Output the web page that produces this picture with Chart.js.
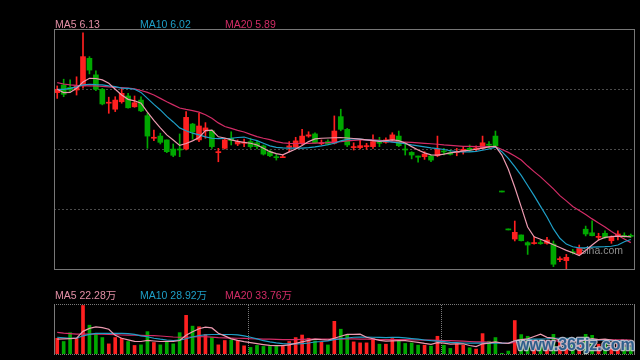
<!DOCTYPE html>
<html>
<head>
<meta charset="utf-8">
<script src="https://cdn.jsdelivr.net/npm/chart.js@4.4.1/dist/chart.umd.min.js"></script>
<style>
  html, body { margin: 0; padding: 0; background: #000; }
  #wrap { position: relative; width: 640px; height: 360px; background: #000; overflow: hidden; }
  canvas { position: absolute; left: 0; }
  #priceChart { top: 0; }
  #volChart { top: 280px; }
  .lbl { position: absolute; font: 10.5px/12px "Liberation Sans", Arial, "Noto Sans CJK SC", sans-serif; white-space: nowrap; }
</style>
</head>
<body>
<div id="wrap">
  <canvas id="priceChart" width="640" height="280" style="width:640px;height:280px"></canvas>
  <canvas id="volChart" width="640" height="80" style="width:640px;height:80px"></canvas>
  <div class="lbl" style="left:55px;top:18px;color:#e38fa6">MA5 6.13</div>
  <div class="lbl" style="left:140px;top:18px;color:#1e9fc7">MA10 6.02</div>
  <div class="lbl" style="left:225px;top:18px;color:#d22c66">MA20 5.89</div>
  <div class="lbl" style="left:55px;top:289px;color:#e38fa6">MA5 22.28万</div>
  <div class="lbl" style="left:140px;top:289px;color:#1e9fc7">MA10 28.92万</div>
  <div class="lbl" style="left:225px;top:289px;color:#d22c66">MA20 33.76万</div>
</div>
<script>
// daily candles, oldest first
const open = [12.14,12.46,12.36,12.25,12.42,13.57,12.88,12.28,11.70,11.45,
  11.76,12.00,11.55,11.83,11.18,10.24,10.33,10.17,9.79,9.78,
  9.79,10.83,10.17,10.54,10.55,9.64,9.82,10.24,10.00,10.03,
  10.10,10.05,9.92,9.68,9.47,9.43,9.86,9.86,10.03,10.33,
  10.42,10.01,10.10,10.03,11.14,10.61,9.85,9.85,9.89,9.89,
  10.07,10.07,10.17,10.33,9.79,9.65,9.50,9.47,9.50,9.51,
  9.71,9.64,9.64,9.68,9.82,9.77,9.82,9.99,10.33,8.00,
  6.42,6.04,6.21,5.89,5.85,5.88,5.86,5.83,5.18,5.14,
  5.51,5.42,6.45,6.30,6.11,6.28,5.97,6.14,6.18,6.18];
const high = [12.42,12.70,12.67,12.80,14.63,13.64,13.05,12.32,11.95,11.97,
  12.32,12.11,12.00,11.97,11.28,10.58,10.45,10.17,10.00,10.42,
  11.35,10.86,11.28,10.89,10.58,9.82,10.24,10.51,10.17,10.20,
  10.24,10.13,9.96,9.75,9.57,9.54,10.10,10.28,10.61,10.51,
  10.47,10.17,10.17,11.17,11.45,10.65,10.05,10.17,10.03,10.38,
  10.28,10.26,10.47,10.54,10.03,9.68,9.50,9.68,9.54,10.33,
  9.82,9.75,9.82,9.89,9.96,9.92,10.33,10.10,10.54,8.00,
  6.42,6.79,6.21,5.93,6.14,6.00,6.11,5.96,5.30,5.40,
  5.61,5.79,6.58,6.80,6.28,6.38,6.17,6.38,6.30,6.25];
const low = [11.90,11.97,12.18,12.04,12.33,12.92,12.22,11.63,11.28,11.35,
  11.70,11.49,11.53,11.35,9.82,10.14,10.00,9.64,9.47,9.47,
  9.75,10.20,10.10,10.24,9.82,9.26,9.79,9.96,9.93,9.89,
  9.82,9.79,9.54,9.47,9.33,9.43,9.68,9.82,9.96,10.28,
  10.03,9.96,9.96,10.00,10.55,9.89,9.75,9.79,9.78,9.82,
  9.89,10.03,10.14,9.89,9.54,9.38,9.24,9.36,9.26,9.47,
  9.54,9.54,9.51,9.58,9.68,9.71,9.79,9.82,9.89,8.00,
  6.42,5.96,5.96,5.40,5.83,5.82,5.83,4.89,5.10,4.78,
  5.42,5.38,6.17,6.17,6.00,6.07,5.86,6.00,6.11,6.11];
const close = [12.28,12.07,12.25,12.42,13.64,13.08,12.28,11.67,11.74,11.83,
  12.11,11.51,11.72,11.38,10.33,10.28,10.07,9.68,9.53,9.75,
  11.11,10.50,10.75,10.67,9.89,9.68,10.17,10.14,10.10,10.07,
  9.89,9.89,9.58,9.51,9.43,9.47,9.92,10.13,10.33,10.38,
  10.05,10.05,9.99,10.54,10.61,9.96,9.89,9.93,9.93,10.10,
  10.03,10.17,10.38,9.93,9.75,9.54,9.45,9.58,9.33,9.79,
  9.67,9.57,9.68,9.78,9.75,9.83,10.05,9.95,9.92,8.00,
  6.42,6.32,5.97,5.79,5.88,5.85,6.00,4.99,5.22,5.28,
  5.47,5.65,6.25,6.18,6.14,6.10,6.11,6.25,6.15,6.15];

// moving averages as drawn
const ma5 = [12.28,12.14,12.15,12.32,12.58,12.74,12.73,12.67,12.53,12.28,
  12.04,11.86,11.80,11.70,11.33,10.98,10.67,10.38,10.17,9.94,
  10.02,10.13,10.27,10.56,10.58,10.30,10.25,10.17,10.11,10.07,
  10.03,9.96,9.82,9.68,9.60,9.55,9.67,9.79,9.94,10.10,
  10.21,10.24,10.25,10.26,10.27,10.25,10.23,10.20,10.17,10.14,
  10.11,10.14,10.17,10.14,10.04,9.89,9.75,9.63,9.55,9.54,
  9.58,9.63,9.67,9.71,9.74,9.78,9.83,9.88,9.90,9.54,
  8.95,8.20,7.38,6.54,6.13,6.03,5.92,5.80,5.69,5.57,
  5.47,5.35,5.56,5.79,6.00,6.11,6.14,6.16,6.15,6.13];
const ma10 = [12.28,12.28,12.32,12.38,12.46,12.49,12.47,12.46,12.42,12.39,
  12.33,12.32,12.28,12.15,11.90,11.65,11.42,11.15,10.92,10.67,
  10.55,10.45,10.38,10.30,10.24,10.22,10.23,10.24,10.27,10.29,
  10.21,10.14,10.03,9.92,9.86,9.84,9.83,9.83,9.83,9.85,
  9.88,9.92,9.97,10.03,10.13,10.19,10.22,10.20,10.17,10.15,
  10.13,10.11,10.08,10.05,10.01,9.96,9.92,9.88,9.84,9.81,
  9.77,9.72,9.68,9.67,9.67,9.69,9.74,9.79,9.87,9.68,
  9.40,9.06,8.69,8.27,7.85,7.40,6.96,6.46,6.07,5.83,
  5.72,5.67,5.68,5.70,5.71,5.72,5.74,5.79,5.93,6.02];
const ma20 = [12.56,12.50,12.46,12.44,12.43,12.42,12.42,12.40,12.38,12.36,
  12.35,12.33,12.30,12.23,12.15,12.04,11.90,11.76,11.63,11.50,
  11.44,11.39,11.33,11.22,11.07,10.88,10.73,10.65,10.57,10.50,
  10.40,10.31,10.24,10.18,10.10,10.05,10.03,10.02,10.02,10.03,
  10.04,10.05,10.06,10.08,10.10,10.13,10.15,10.17,10.18,10.17,
  10.15,10.13,10.10,10.08,10.08,10.07,10.05,10.03,10.01,9.99,
  9.96,9.94,9.92,9.90,9.90,9.89,9.89,9.89,9.89,9.77,
  9.65,9.50,9.33,9.08,8.85,8.63,8.38,8.13,7.85,7.63,
  7.40,7.23,7.06,6.88,6.71,6.54,6.35,6.19,6.04,5.89];

// volume in 万 shares
const volume = [37.9,30.1,51.4,37.9,116.8,69.4,49.8,39.6,24.4,39.6,
  37.9,30.1,20.6,22.0,53.8,27.7,22.0,30.1,24.4,51.4,
  93.1,67.1,65.6,47.4,39.6,22.0,32.5,33.9,32.5,19.7,
  15.9,20.6,18.2,18.2,18.2,18.2,30.1,39.6,45.7,37.9,
  31.5,28.4,21.8,78.7,59.7,46.2,29.2,26.8,26.8,37.2,
  23.7,23.7,37.2,33.2,25.4,26.8,21.3,21.3,19.0,42.7,
  21.3,13.5,23.7,21.3,14.9,11.9,49.1,30.8,39.6,1.7,
  7.1,80.6,46.7,42.7,33.2,33.2,28.4,47.4,28.4,35.6,
  23.7,33.2,47.4,45.0,23.7,28.4,23.7,28.4,16.0,16.0];
const volMa5 = [35.6,36.3,37.2,38.4,54.5,61.6,65.4,63.5,59.7,45.0,
  37.9,34.1,30.3,30.1,32.7,31.3,30.1,30.6,30.3,32.5,
  45.0,53.6,60.9,64.5,62.8,49.8,43.6,36.5,32.9,29.9,
  27.5,25.1,22.8,20.6,20.1,20.4,22.0,25.4,29.4,32.9,
  35.6,34.4,33.7,37.9,42.7,47.2,47.4,47.9,40.3,36.7,
  32.7,30.8,31.5,32.0,32.0,30.1,28.0,25.4,23.2,27.3,
  26.1,23.9,24.2,24.6,20.4,17.8,24.6,26.1,29.2,26.5,
  25.6,32.0,34.6,36.3,42.2,47.9,40.1,38.2,33.7,34.6,
  32.7,33.7,33.7,37.0,34.6,35.6,33.7,30.3,25.6,22.28];
const volMa10 = [40.3,39.1,37.9,37.9,43.8,47.4,49.8,49.8,49.8,49.8,
  49.8,49.1,47.4,43.8,41.5,37.9,35.6,33.7,32.5,33.2,
  36.7,41.0,44.6,46.2,46.9,46.9,46.9,46.9,46.2,43.8,
  40.3,36.3,32.0,29.2,26.8,24.9,24.4,24.4,24.9,26.5,
  28.9,30.1,31.8,34.4,36.7,38.6,40.3,40.8,40.8,40.3,
  39.8,39.6,39.8,39.8,38.6,37.2,35.6,33.7,32.0,30.8,
  29.6,28.0,27.3,26.5,26.1,26.1,26.1,26.1,26.1,26.1,
  25.6,32.0,33.9,35.1,35.6,36.0,36.7,37.9,37.9,37.9,
  37.4,36.5,35.6,34.6,33.9,33.2,32.5,31.8,30.3,28.92];
const volMa20 = [52.1,50.5,49.3,48.1,47.9,47.9,48.1,47.9,47.4,46.7,
  45.7,45.5,45.3,45.0,44.6,44.1,43.4,42.2,41.0,40.3,
  40.3,41.0,41.7,41.5,40.8,39.3,38.9,38.4,37.9,37.4,
  36.7,36.3,35.8,35.6,35.1,34.6,34.6,34.8,35.1,35.6,
  36.0,35.8,35.6,35.8,36.0,36.3,36.3,36.0,35.6,35.3,
  34.8,34.6,34.6,34.6,34.4,33.9,33.7,33.4,33.2,32.9,
  32.5,32.0,31.5,30.8,30.1,29.4,29.2,28.4,27.7,26.5,
  25.6,28.0,28.9,29.9,30.3,30.8,30.8,31.5,31.5,31.8,
  31.5,32.2,33.2,33.9,33.9,34.4,34.1,34.1,33.9,33.76];

// first trading day of a new month (dotted separators in the volume pane)
const monthStarts = [30, 60];

const days = close.map((c, i) => i + 1);

const UP = '#ff2020';
const DOWN = '#00a800';
const C_MA5 = '#ec9ab0';
const C_MA10 = '#1e9fc7';
const C_MA20 = '#d22c66';

let candleColors = close.map((c, i) => {
  if (c > open[i]) return UP;
  if (c < open[i]) return DOWN;
  return (i > 0 && c < close[i - 1]) ? DOWN : UP;
});

function maLine(data, color) {
  return { type: 'line', data: data, borderColor: color, borderWidth: 1.2,
    pointRadius: 0, tension: 0, fill: false };
}

const priceFrame = {
  id: 'priceFrame',
  beforeDatasetsDraw(chart) {
    const { ctx, chartArea: a } = chart;
    ctx.save();
    ctx.strokeStyle = '#4a4a4a';
    ctx.lineWidth = 1;
    ctx.setLineDash([2, 2]);
    for (let k = 1; k < 4; k++) {
      let y = Math.round(a.top + (a.bottom - a.top) * k / 4) + 0.5;
      ctx.beginPath();
      ctx.moveTo(a.left, y);
      ctx.lineTo(a.right, y);
      ctx.stroke();
    }
    ctx.setLineDash([]);
    ctx.fillStyle = '#8e8e8e';
    ctx.font = '10.5px "Liberation Sans", Arial, sans-serif';
    ctx.fillText('sina.com', 581, 253.5);
    ctx.restore();
  },
  afterDatasetsDraw(chart) {
    const { ctx, chartArea: a } = chart;
    ctx.save();
    ctx.strokeStyle = '#777';
    ctx.lineWidth = 1;
    ctx.strokeRect(a.left + 0.5, a.top + 0.5, a.right - a.left, a.bottom - a.top);
    ctx.restore();
  }
};

const volFrame = {
  id: 'volFrame',
  beforeDatasetsDraw(chart) {
    const { ctx, chartArea: a } = chart;
    const x = chart.scales.x;
    ctx.save();
    ctx.strokeStyle = '#7a7a7a';
    ctx.lineWidth = 1;
    ctx.setLineDash([1, 1]);
    ctx.beginPath();
    ctx.moveTo(a.left, a.top - 0.5);
    ctx.lineTo(a.right, a.top - 0.5);
    ctx.moveTo(a.left, a.bottom + 0.5);
    ctx.lineTo(a.right, a.bottom + 0.5);
    for (const m of monthStarts) {
      let px = Math.ceil((x.getPixelForValue(m - 1) + x.getPixelForValue(m)) / 2) + 0.5;
      ctx.moveTo(px, a.top);
      ctx.lineTo(px, a.bottom);
    }
    ctx.stroke();
    ctx.setLineDash([]);
    ctx.beginPath();
    ctx.moveTo(a.left + 0.5, a.top - 1);
    ctx.lineTo(a.left + 0.5, a.bottom + 1);
    ctx.moveTo(a.right + 0.5, a.top - 1);
    ctx.lineTo(a.right + 0.5, a.bottom + 1);
    ctx.stroke();
    ctx.restore();
  },
  afterDatasetsDraw(chart) {
    const ctx = chart.ctx;
    ctx.save();
    ctx.font = 'bold 16px "Liberation Sans", Arial, sans-serif';
    ctx.lineJoin = 'round';
    ctx.lineWidth = 2.5;
    ctx.strokeStyle = 'rgba(205,205,220,0.85)';
    ctx.strokeText('www.365jz.com', 517, 70);
    ctx.fillStyle = '#2f5f8c';
    ctx.fillText('www.365jz.com', 517, 70);
    ctx.restore();
  }
};

new Chart(document.getElementById('priceChart'), {
  type: 'bar',
  data: {
    labels: days,
    datasets: [
      maLine(ma5, C_MA5),
      maLine(ma10, C_MA10),
      maLine(ma20, C_MA20),
      { data: open.map((o, i) => [o, close[i]]), backgroundColor: candleColors,
        barThickness: 5, minBarLength: 1, grouped: false },
      { data: low.map((l, i) => [l, high[i]]), backgroundColor: candleColors,
        barThickness: 1, minBarLength: 1, grouped: false }
    ]
  },
  options: {
    responsive: false,
    animation: false,
    layout: { padding: { left: 54, right: 6, top: 29, bottom: 11 } },
    plugins: { legend: { display: false }, tooltip: { enabled: false } },
    scales: {
      x: { display: false, offset: true },
      y: { display: false, min: 16 - 269 / 24, max: 16 - 29 / 24 }
    }
  },
  plugins: [priceFrame]
});

new Chart(document.getElementById('volChart'), {
  type: 'bar',
  data: {
    labels: days,
    datasets: [
      maLine(volMa5, C_MA5),
      maLine(volMa10, C_MA10),
      maLine(volMa20, C_MA20),
      { data: volume, backgroundColor: candleColors, barThickness: 3, grouped: false }
    ]
  },
  options: {
    responsive: false,
    animation: false,
    layout: { padding: { left: 54, right: 6, top: 25, bottom: 6 } },
    plugins: { legend: { display: false }, tooltip: { enabled: false } },
    scales: {
      x: { display: false, offset: true },
      y: { display: false, min: 0, max: 118 }
    }
  },
  plugins: [volFrame]
});
</script>
</body>
</html>
